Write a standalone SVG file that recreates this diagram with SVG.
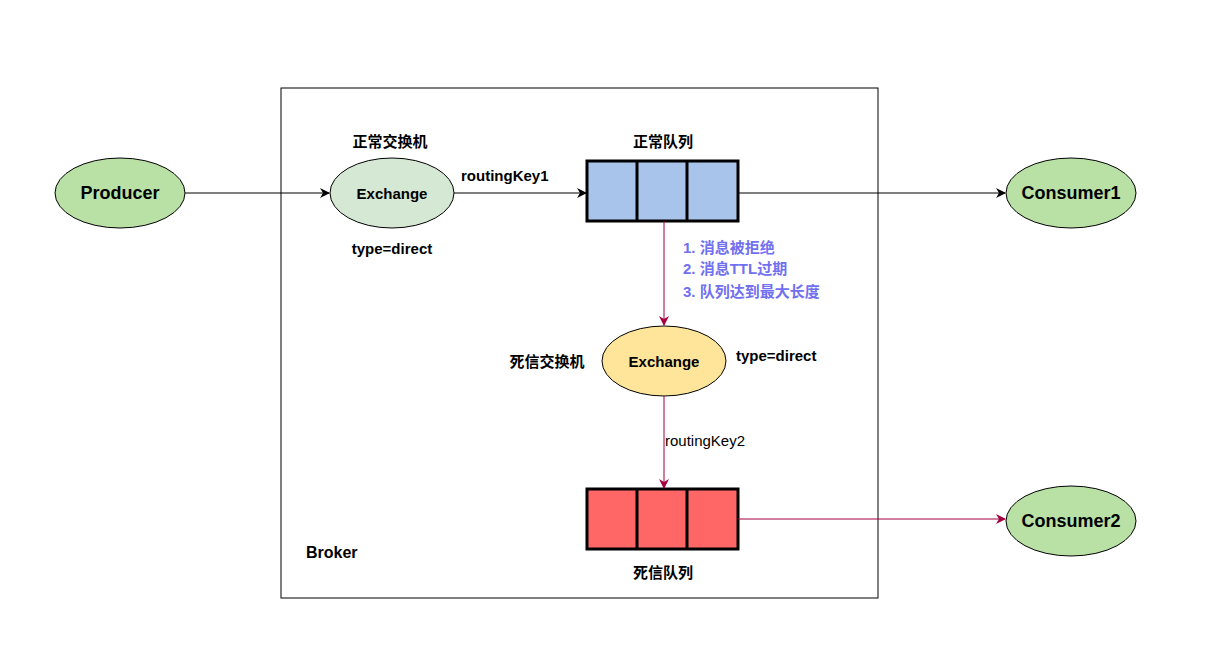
<svg xmlns="http://www.w3.org/2000/svg" width="1210" height="671" viewBox="0 0 1210 671">
<style>
text{font-family:"Liberation Sans","Noto Sans CJK SC",sans-serif;font-weight:bold;fill:#000}
.n{font-size:16px}
.s{font-size:15px}
.p{fill:#7070f0;font-size:15px}
.e{stroke:#000;stroke-width:1}
.q{stroke:#000;stroke-width:3}
.k{stroke:#000;stroke-width:1;fill:none}
.r{stroke:#a50040;stroke-width:1;fill:none}
</style>
<defs>
<marker id="ab" markerWidth="10" markerHeight="10" refX="9" refY="5" orient="auto" markerUnits="userSpaceOnUse"><path d="M0,0 L10,5 L0,10 L3,5z" fill="#000"/></marker>
<marker id="ar" markerWidth="10" markerHeight="10" refX="9" refY="5" orient="auto" markerUnits="userSpaceOnUse"><path d="M0,0 L10,5 L0,10 L3,5z" fill="#a50040"/></marker>
</defs>
<rect width="1210" height="671" fill="#fff"/>
<g id="broker"><rect x="281" y="88" width="597" height="510" fill="none" stroke="#000"/><text x="306" y="558" class="n">Broker</text></g>
<g id="producer"><ellipse cx="120" cy="193" rx="65" ry="35" fill="#b9e0a5" class="e"/><text x="120" y="199" text-anchor="middle" style="font-size:18px">Producer</text></g>
<g id="exchange1"><ellipse cx="392" cy="193" rx="62" ry="35" fill="#d5e8d4" class="e"/><text x="392" y="199" text-anchor="middle" class="s">Exchange</text>
<text x="390" y="147" text-anchor="middle" class="s">正常交换机</text><text x="392" y="254" text-anchor="middle" class="s">type=direct</text></g>
<g id="queue1"><rect x="587" y="161" width="151" height="60" fill="#a9c4eb" class="q"/><line x1="637" y1="161" x2="637" y2="221" class="q"/><line x1="687" y1="161" x2="687" y2="221" class="q"/><text x="663" y="147" text-anchor="middle" class="s">正常队列</text></g>
<g id="consumer1"><ellipse cx="1071" cy="193" rx="65" ry="35" fill="#b9e0a5" class="e"/><text x="1071" y="199" text-anchor="middle" style="font-size:18px">Consumer1</text></g>
<g id="exchange2"><ellipse cx="664" cy="361" rx="62" ry="35" fill="#ffe599" class="e"/><text x="664" y="367" text-anchor="middle" class="s">Exchange</text>
<text x="547" y="367" text-anchor="middle" class="s">死信交换机</text><text x="736" y="361" class="s">type=direct</text></g>
<g id="queue2"><rect x="587" y="489" width="151" height="60" fill="#ff6666" class="q"/><line x1="637" y1="489" x2="637" y2="549" class="q"/><line x1="687" y1="489" x2="687" y2="549" class="q"/><text x="663" y="578" text-anchor="middle" class="s">死信队列</text></g>
<g id="consumer2"><ellipse cx="1071" cy="521" rx="65" ry="35" fill="#b9e0a5" class="e"/><text x="1071" y="527" text-anchor="middle" style="font-size:18px">Consumer2</text></g>
<g id="connectors">
<line x1="185" y1="193" x2="329" y2="193" class="k" marker-end="url(#ab)"/>
<line x1="454" y1="193" x2="586" y2="193" class="k" marker-end="url(#ab)"/>
<text x="461" y="181" class="s">routingKey1</text>
<line x1="738" y1="193" x2="1005" y2="193" class="k" marker-end="url(#ab)"/>
<line x1="664" y1="221" x2="664" y2="325" class="r" marker-end="url(#ar)"/>
<text x="683" y="253" class="p">1. 消息被拒绝</text><text x="683" y="274" class="p">2. 消息TTL过期</text><text x="683" y="297" class="p">3. 队列达到最大长度</text>
<line x1="664" y1="396" x2="664" y2="488" class="r" marker-end="url(#ar)"/>
<text x="665" y="446" class="s" style="font-weight:normal">routingKey2</text>
<line x1="738" y1="519" x2="1005" y2="519" class="r" marker-end="url(#ar)"/>
</g>
</svg>
